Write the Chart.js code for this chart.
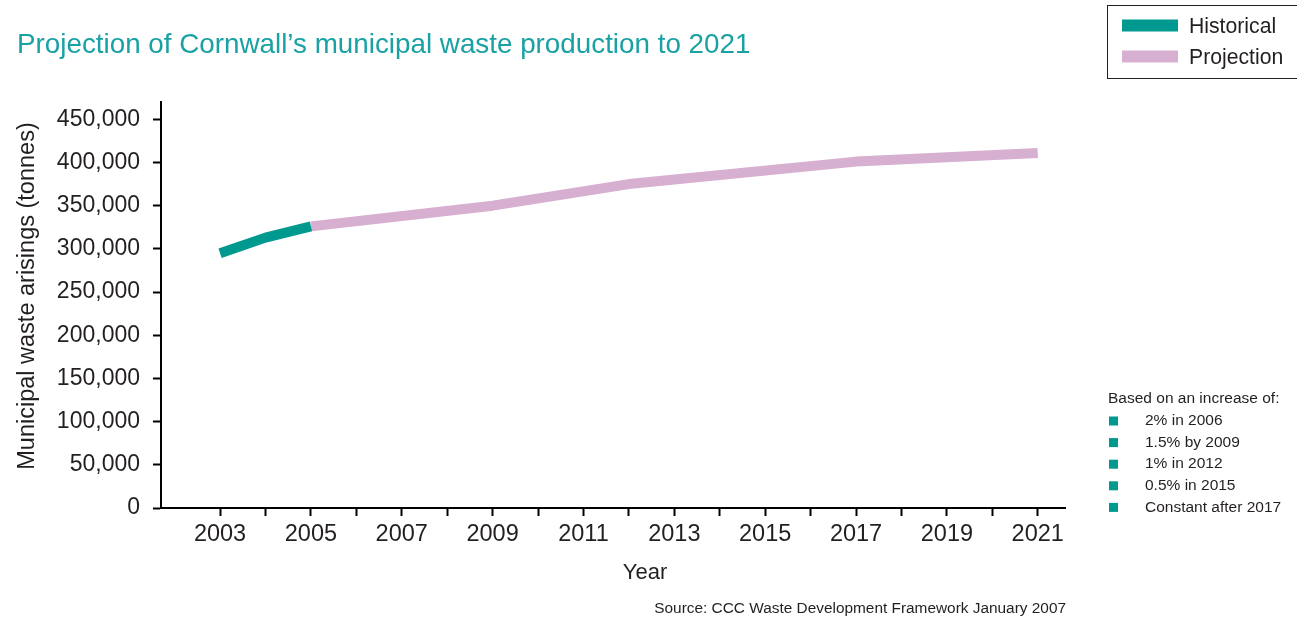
<!DOCTYPE html>
<html>
<head>
<meta charset="utf-8">
<script src="https://cdn.jsdelivr.net/npm/chart.js@4/dist/chart.umd.min.js"></script>
<style>
  html, body { margin: 0; padding: 0; background: #ffffff; }
  #wrap { position: relative; width: 1297px; height: 623px; }
</style>
</head>
<body>
<div id="wrap"><canvas id="c" width="1297" height="623"></canvas></div>
<script>
// ---- Data ----
const titleText = "Projection of Cornwall\u2019s municipal waste production to 2021";
const seriesNames = ["Historical", "Projection"];
const historicalYears = [2003, 2004, 2005];
const historicalValues = [295000, 313000, 326000];
const projectionYears = [2005, 2009, 2012, 2017, 2021];
const projectionValues = [326000, 350000, 375000, 401000, 411000];
const tickYears = [2003, 2004, 2005, 2006, 2007, 2008, 2009, 2010, 2011, 2012, 2013, 2014, 2015, 2016, 2017, 2018, 2019, 2020, 2021];
const labelledYears = [2003, 2005, 2007, 2009, 2011, 2013, 2015, 2017, 2019, 2021];
const yTickValues = [0, 50000, 100000, 150000, 200000, 250000, 300000, 350000, 400000, 450000];
const xAxisTitle = "Year";
const yAxisTitle = "Municipal waste arisings (tonnes)";
const notesHeader = "Based on an increase of:";
const notesItems = ["2% in 2006", "1.5% by 2009", "1% in 2012", "0.5% in 2015", "Constant after 2017"];
const sourceText = "Source: CCC Waste Development Framework January 2007";

const TEAL = '#00998f';
const PINK = '#d6afd1';
const TEXT = '#231f20';
const TITLE_COLOR = '#1aa1a4';
const FONT = '"Liberation Sans", Arial, sans-serif';

const toPoints = (xs, ys) => xs.map((x, i) => ({ x: x, y: ys[i] }));

const decorPlugin = {
  id: 'decor',
  afterDraw(chart) {
    const ctx = chart.ctx;
    ctx.save();
    // Title
    ctx.fillStyle = TITLE_COLOR;
    ctx.font = '27.8px ' + FONT;
    ctx.textBaseline = 'alphabetic';
    ctx.textAlign = 'left';
    ctx.fillText(titleText, 17, 53);

    // Axis titles
    ctx.fillStyle = TEXT;
    ctx.font = '22px ' + FONT;
    ctx.textAlign = 'center';
    ctx.textBaseline = 'middle';
    ctx.fillText(xAxisTitle, 645, 573);
    ctx.save();
    ctx.translate(28, 296);
    ctx.rotate(-Math.PI / 2);
    ctx.font = '23.5px ' + FONT;
    ctx.fillText(yAxisTitle, 0, 0);
    ctx.restore();

    // Legend box
    ctx.textAlign = 'left';
    ctx.strokeStyle = '#231f20';
    ctx.lineWidth = 1;
    ctx.strokeRect(1107.5, 5.5, 196, 73);
    const ds = chart.data.datasets;
    const rowsY = [25.5, 56.5];
    ds.forEach((d, i) => {
      ctx.fillStyle = d.borderColor;
      ctx.fillRect(1122, rowsY[i] - 6, 56, 12);
      ctx.fillStyle = TEXT;
      ctx.font = '21.2px ' + FONT;
      ctx.textBaseline = 'middle';
      ctx.fillText(d.label, 1189, rowsY[i] + 2);
    });

    // Notes
    ctx.fillStyle = TEXT;
    ctx.font = '15.5px ' + FONT;
    ctx.textBaseline = 'middle';
    ctx.fillText(notesHeader, 1108, 399);
    notesItems.forEach((t, i) => {
      const y = 421 + i * 21.6;
      ctx.fillStyle = TEAL;
      ctx.fillRect(1109, y - 4.5, 9, 9);
      ctx.fillStyle = TEXT;
      ctx.fillText(t, 1145, y);
    });

    // Source
    ctx.font = '15.4px ' + FONT;
    ctx.textAlign = 'right';
    ctx.fillText(sourceText, 1066, 609);
    ctx.restore();
  }
};

new Chart(document.getElementById('c'), {
  type: 'line',
  data: {
    datasets: [
      {
        label: seriesNames[0],
        data: toPoints(historicalYears, historicalValues),
        borderColor: TEAL,
        backgroundColor: TEAL,
        borderWidth: 10,
        borderCapStyle: 'butt',
        borderJoinStyle: 'round',
        pointRadius: 0,
        tension: 0,
        fill: false
      },
      {
        label: seriesNames[1],
        data: toPoints(projectionYears, projectionValues),
        borderColor: PINK,
        backgroundColor: PINK,
        borderWidth: 10,
        borderCapStyle: 'butt',
        borderJoinStyle: 'round',
        pointRadius: 0,
        tension: 0,
        fill: false
      }
    ]
  },
  options: {
    responsive: false,
    animation: false,
    devicePixelRatio: 1,
    layout: { padding: { top: 102, right: 232, bottom: 40, left: 0 } },
    plugins: {
      legend: { display: false },
      tooltip: { enabled: false },
      title: { display: false }
    },
    scales: {
      x: {
        type: 'linear',
        min: 2001.7,
        max: 2021.6,
        afterBuildTicks(scale) {
          scale.ticks = tickYears.map(v => ({ value: v }));
        },
        afterFit(scale) { scale.height = 75; },
        ticks: {
          autoSkip: false,
          maxRotation: 0,
          color: TEXT,
          font: { family: FONT, size: 23.5 },
          padding: 4,
          callback: (v) => labelledYears.includes(v) ? String(v) : ''
        },
        grid: { drawOnChartArea: false, drawTicks: true, tickLength: 8, tickColor: '#000', tickWidth: 2 },
        border: { display: true, color: '#000', width: 2 },
        title: { display: false }
      },
      y: {
        min: 0,
        max: 470000,
        afterBuildTicks(scale) {
          scale.ticks = yTickValues.map(v => ({ value: v }));
        },
        afterFit(scale) { scale.width = 161; },
        ticks: {
          color: TEXT,
          font: { family: FONT, size: 23 },
          padding: 13,
          callback: (v) => v.toLocaleString('en-GB')
        },
        grid: { drawOnChartArea: false, drawTicks: true, tickLength: 8, tickColor: '#000', tickWidth: 2 },
        border: { display: true, color: '#000', width: 2 },
        title: { display: false }
      }
    }
  },
  plugins: [decorPlugin]
});
</script>
</body>
</html>
